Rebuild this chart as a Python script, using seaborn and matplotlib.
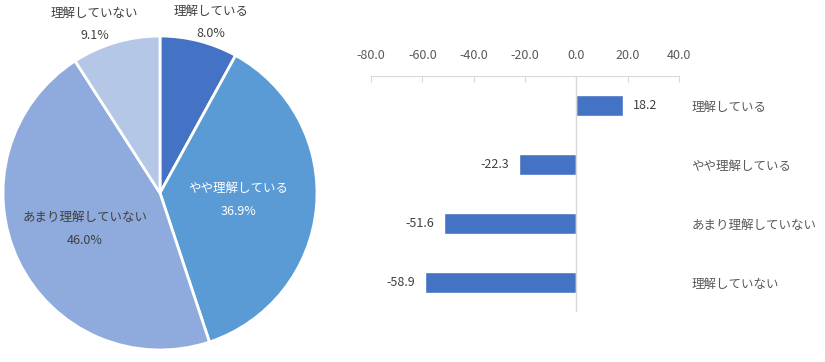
import matplotlib
matplotlib.use("Agg")
import matplotlib.pyplot as plt
import seaborn as sns
import numpy as np
import pandas as pd

sns.set_style("white")
plt.rcParams['font.family'] = ['Noto Sans CJK JP', 'DejaVu Sans']

# data
pie_labels = ['理解している', 'やや理解している', 'あまり理解していない', '理解していない']
pie_values = [8.0, 36.9, 46.0, 9.1]
pie_colors = ['#4472C4', '#5B9BD5', '#8FAADC', '#B4C7E7']

bar_labels = ['理解している', 'やや理解している', 'あまり理解していない', '理解していない']
bar_values = [18.2, -22.3, -51.6, -58.9]
x_ticks = [-80, -60, -40, -20, 0, 20, 40]

text_color = '#404040'
W, H = 825, 362
fig = plt.figure(figsize=(W / 100, H / 100), dpi=100)

# ---- pie ----
cx, cy, r = 160, 193, 157
ax1 = fig.add_axes([(cx - r) / W, (H - cy - r) / H, 2 * r / W, 2 * r / H])
wedges, _ = ax1.pie(pie_values, colors=pie_colors, startangle=90, counterclock=False,
                    wedgeprops=dict(edgecolor='white', linewidth=2))
ax1.set_xlim(-1, 1)
ax1.set_ylim(-1, 1)
ax1.set_aspect('equal')

# label distances per slice (outside for the small slices)
label_dist = [1.12, 0.5, 0.53, 1.12]
label_shift = [0.045, 0.0, 0.0, -0.1]
for w, lab, val, d, sh in zip(wedges, pie_labels, pie_values, label_dist, label_shift):
    ang = np.deg2rad((w.theta1 + w.theta2) / 2)
    x, y = d * np.cos(ang) + sh, d * np.sin(ang)
    col = 'white' if lab == 'やや理解している' else text_color
    ax1.text(x, y, f'{lab}\n{val:.1f}%', ha='center', va='center', fontsize=9,
             color=col, linespacing=1.95, clip_on=False)

# ---- bars ----
x0, x1 = 371, 679
y0, y1 = 76, 312
ax2 = fig.add_axes([x0 / W, (H - y1) / H, (x1 - x0) / W, (y1 - y0) / H])
df = pd.DataFrame({'label': bar_labels, 'value': bar_values})
sns.barplot(data=df, x='value', y='label', orient='h', color='#4472C4',
            width=0.36, saturation=1, ax=ax2)
ax2.set_xlim(-80, 40)
ax2.set_xticks(x_ticks)
ax2.set_xticklabels([f'{t:.1f}' for t in x_ticks])
ax2.xaxis.tick_top()
ax2.tick_params(axis='x', direction='in', length=4, color='#D9D9D9',
                labelcolor='#595959', labelsize=9, pad=10)
ax2.yaxis.tick_right()
ax2.tick_params(axis='y', length=0, labelcolor='#595959', labelsize=9, pad=9)
ax2.set_xlabel('')
ax2.set_ylabel('')
for s in ['left', 'right', 'bottom']:
    ax2.spines[s].set_visible(False)
ax2.spines['top'].set_color('#D9D9D9')
ax2.axvline(0, color='#D9D9D9', linewidth=1)
for c in ax2.containers:
    ax2.bar_label(c, fmt='%.1f', padding=7, fontsize=9, color=text_color)

fig.savefig('out.png', dpi=100)
